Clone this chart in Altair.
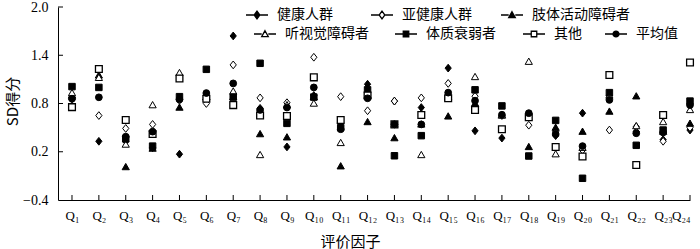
import altair as alt
import pandas as pd

# ---------------- data ----------------
factor_index = list(range(1, 25))
_sub = str.maketrans("0123456789", "₀₁₂₃₄₅₆₇₈₉")
tick_labels = ["Q" + str(i).translate(_sub) for i in factor_index]

series_names = ["健康人群", "亚健康人群", "肢体活动障碍者", "听视觉障碍者", "体质衰弱者", "其他", "平均值"]

healthy = [0.88, 0.33, 0.33, 0.25, 0.17, 0.90, 1.64, 0.74, 0.26, 0.90, 0.56, 1.04,
           0.83, 0.75, 1.24, 0.46, 0.37, 0.66, 0.40, 0.68, 0.90, 0.45, 0.35, 0.47]
sub_healthy = [0.85, 0.65, 0.49, 0.54, 0.84, 0.80, 1.28, 0.87, 0.81, 1.375, 0.885, 0.71,
               0.83, 0.87, 1.05, 0.89, 0.65, 0.53, 0.45, 0.22, 0.47, 0.51, 0.33, 0.50]
limb = [0.90, 1.15, 0.01, 0.24, 0.75, 0.88, 0.88, 0.42, 0.38, 0.88, 0.02, 0.57,
        0.37, 0.54, 0.64, 0.80, 0.66, 0.26, 0.50, 0.45, 0.70, 0.89, 0.45, 0.55]
sensory = [0.93, 1.12, 0.29, 0.78, 1.18, 0.88, 0.95, 0.16, 0.78, 0.80, 0.31, 0.90,
           0.54, 0.16, 0.88, 1.13, 0.65, 1.32, 0.17, 0.25, 0.90, 0.52, 0.57, 0.72]
frail = [1.01, 1.00, 0.36, 0.27, 0.885, 1.225, 0.88, 1.30, 0.553, 0.88, 0.50, 0.97,
         0.15, 0.40, 0.865, 0.97, 0.77, 0.147, 0.59, -0.13, 0.935, 0.28, 0.47, 0.83]
other = [0.755, 1.23, 0.595, 0.42, 1.11, 0.86, 0.78, 0.65, 0.644, 1.125, 0.595, 0.90,
         0.54, 0.657, 0.865, 0.72, 0.48, 0.63, 0.26, 0.14, 1.155, 0.035, 0.657, 1.31]
mean_val = [0.86, 0.877, 0.387, 0.45, 0.85, 0.93, 1.05, 0.72, 0.75, 1.0, 0.48, 0.865,
            0.54, 0.54, 0.935, 0.835, 0.66, 0.68, 0.42, 0.27, 0.845, 0.43, 0.44, 0.78]

series_values = [healthy, sub_healthy, limb, sensory, frail, other, mean_val]

y_ticks = [-0.4, 0.2, 0.8, 1.4, 2.0]

# ---------------- styles ----------------
DIAMOND = "M0,-1L0.8,0L0,1L-0.8,0Z"
TRIANGLE = "M0,-1L1,0.75L-1,0.75Z"
marker_shapes = [DIAMOND, DIAMOND, TRIANGLE, TRIANGLE, "square", "square", "circle"]
marker_fill = ["black", "white", "black", "white", "black", "white", "black"]
marker_size = [60, 60, 52, 52, 42, 46, 46]
marker_stroke = [1, 1, 1, 1, 1, 1.3, 1]

LG_D = "M-1,0H-0.26M0.26,0H1M0,-0.36L0.26,0L0,0.36L-0.26,0Z"
LG_T = "M-1,0H-0.3M0.3,0H1M0,-0.3L0.3,0.24L-0.3,0.24Z"
LG_S = "M-1,0H-0.25M0.25,0H1M-0.25,-0.25H0.25V0.25H-0.25Z"
LG_C = "M-1,0H-0.27M0.27,0H1M0.27,0A0.27,0.27,0,1,1,-0.27,0A0.27,0.27,0,1,1,0.27,0Z"
legend_shapes = [LG_D, LG_D, LG_T, LG_T, LG_S, LG_S, LG_C]
# legend positions relative to plot origin (58, 7)
legend_x = [187, 312, 442, 195, 336, 464, 546]
legend_y = [-4, -4, -4, 15, 15, 15, 15]

SERIF = "Liberation Serif"
CJK = "Noto Sans CJK SC"

label_expr = "[" + ",".join("'" + l + "'" for l in tick_labels) + "][datum.value - 1]"

x_enc = alt.X(
    "idx:Q",
    scale=alt.Scale(domain=[0.479, 24.0], nice=False, zero=False),
    axis=alt.Axis(
        values=factor_index, labelExpr=label_expr, ticks=False, grid=False,
        labelOverlap=False,
        labelFont=SERIF, labelFontSize=13, labelColor="black", labelPadding=9,
        labelAngle=0, domainColor="black", domainWidth=1,
        title="评价因子", titleFont=CJK, titleFontSize=15, titleFontWeight="normal",
        titleColor="black", titleX=292, titleY=41, titleBaseline="middle",
        titleAlign="center",
    ),
)
y_enc = alt.Y(
    "val:Q",
    scale=alt.Scale(domain=[-0.4, 2.0], nice=False, zero=False),
    axis=alt.Axis(
        values=y_ticks, format=".1f", ticks=False, grid=False,
        labelFont=SERIF, labelFontSize=14, labelColor="black", labelPadding=10,
        domainColor="black", domainWidth=1,
        title="SD得分", titleFont=CJK, titleFontSize=15, titleFontWeight="normal",
        titleColor="black", titleX=-46, titleY=94, titleAngle=-90,
        titleBaseline="middle", titleAlign="center",
    ),
)

layers = []

# inward tick marks
xt = pd.DataFrame({"idx": factor_index})
layers.append(
    alt.Chart(xt).mark_rule(color="black", strokeWidth=1).encode(
        x=x_enc, y=alt.value(193), y2=alt.value(188)
    )
)
yt = pd.DataFrame({"val": y_ticks[1:]})
layers.append(
    alt.Chart(yt).mark_rule(color="black", strokeWidth=1).encode(
        y=y_enc, x=alt.value(0), x2=alt.value(5)
    )
)

for i, name in enumerate(series_names):
    df = pd.DataFrame({"idx": factor_index, "val": series_values[i], "series": name})
    layers.append(
        alt.Chart(df).mark_point(
            shape=marker_shapes[i], filled=True, fill=marker_fill[i], stroke="black",
            strokeWidth=marker_stroke[i], size=marker_size[i], opacity=1,
        ).encode(x=x_enc, y=y_enc)
    )

for i, name in enumerate(series_names):
    dl = pd.DataFrame({"idx": [40], "val": [1.0], "series": [name]})
    lg = alt.Legend(
        orient="none", legendX=legend_x[i], legendY=legend_y[i], title=None,
        labelFont=CJK, labelFontSize=14, labelColor="black",
        symbolSize=484, labelOffset=8, padding=0,
        symbolStrokeWidth=1.3, symbolStrokeColor="black",
        symbolFillColor=marker_fill[i],
    )
    layers.append(
        alt.Chart(dl).mark_point(
            filled=True, strokeWidth=1.3, opacity=1, clip=True,
        ).encode(
            x=x_enc, y=y_enc,
            shape=alt.Shape(
                "series:N",
                scale=alt.Scale(domain=[name], range=[legend_shapes[i]]),
                legend=lg,
            ),
            fill=alt.Fill(
                "series:N",
                scale=alt.Scale(domain=[name], range=[marker_fill[i]]),
                legend=lg,
            ),
            stroke=alt.Stroke(
                "series:N",
                scale=alt.Scale(domain=[name], range=["black"]),
                legend=lg,
            ),
        )
    )

chart = (
    alt.layer(*layers)
    .resolve_scale(shape="independent", fill="independent", stroke="independent")
    .properties(
        width=632, height=193,
        autosize=alt.AutoSizeParams(type="none"),
        padding={"left": 58, "top": 7, "right": 10, "bottom": 49},
        background="white",
    )
    .configure_view(stroke=None)
)

chart.save("out.html", embed_options={"renderer": "svg", "actions": False})
